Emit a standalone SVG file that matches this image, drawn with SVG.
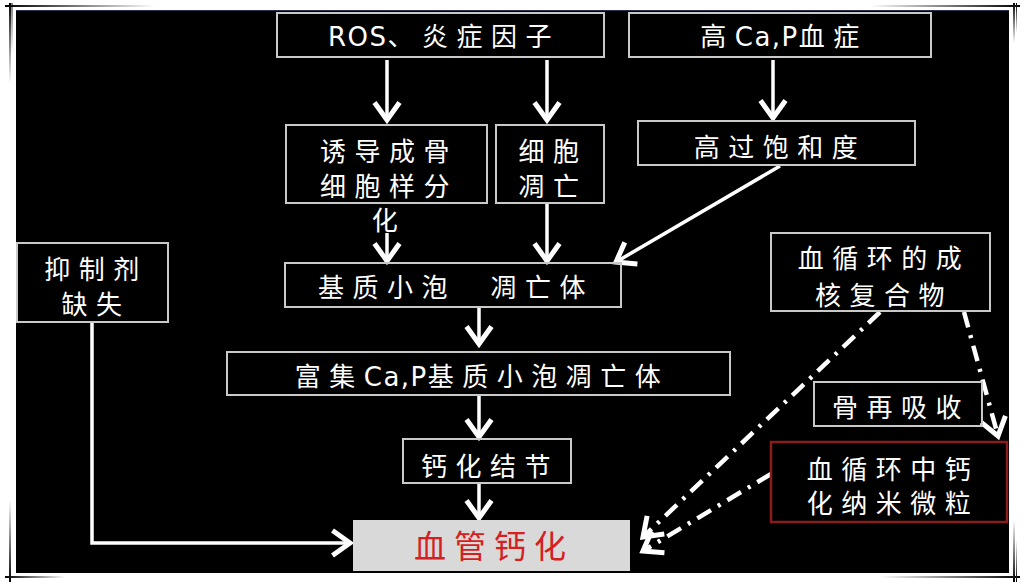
<svg xmlns="http://www.w3.org/2000/svg" width="1024" height="584" viewBox="0 0 1024 584">
<defs>
<style>
.box{fill:none;stroke:#c9c9c9;stroke-width:2}
.t{font-family:"Noto Sans CJK SC","Noto Sans",sans-serif;font-size:26px;fill:#ffffff;text-anchor:middle;letter-spacing:8.5px}
.l{font-family:"DejaVu Sans","Noto Sans CJK SC",sans-serif;letter-spacing:1.5px}
.c{fill:none;stroke:#ffffff;stroke-width:3.5}
.d{fill:none;stroke:#ffffff;stroke-width:4.5;stroke-dasharray:16 8 3 8}
</style>
<marker id="ah" markerUnits="userSpaceOnUse" markerWidth="30" markerHeight="30" refX="0" refY="0" viewBox="-18 -12 22 24" orient="auto">
<path d="M -14 -10 L 0 0 L -14 10" fill="none" stroke="#ffffff" stroke-width="4"/>
</marker>
<linearGradient id="gh" x1="0" y1="0" x2="1" y2="0"><stop offset="0" stop-color="#000"/><stop offset="1" stop-color="#fff"/></linearGradient>
<linearGradient id="ghr" x1="1" y1="0" x2="0" y2="0"><stop offset="0" stop-color="#000"/><stop offset="1" stop-color="#fff"/></linearGradient>
<linearGradient id="gv" x1="0" y1="0" x2="0" y2="1"><stop offset="0" stop-color="#000"/><stop offset="1" stop-color="#fff"/></linearGradient>
<linearGradient id="gvr" x1="0" y1="1" x2="0" y2="0"><stop offset="0" stop-color="#000"/><stop offset="1" stop-color="#fff"/></linearGradient>
</defs>
<rect x="0" y="0" width="1024" height="584" fill="#ffffff"/>
<g id="frame">
<rect x="16" y="10" width="993" height="563" fill="#000000"/>
<line x1="16" y1="10.5" x2="1009" y2="10.5" stroke="#27314a" stroke-width="1"/>
<rect x="5" y="5" width="150" height="2" fill="url(#gh)"/>
<rect x="9" y="3" width="2" height="80" fill="url(#gv)"/>
<rect x="11.5" y="3" width="1" height="50" fill="url(#gv)"/>
<rect x="870" y="5" width="150" height="2" fill="url(#ghr)"/>
<rect x="1013" y="3" width="2" height="40" fill="url(#gv)"/>
<rect x="1016" y="3" width="1" height="30" fill="url(#gv)"/>
<rect x="5" y="576" width="60" height="2" fill="url(#gh)"/>
<rect x="9" y="500" width="2" height="82" fill="url(#gvr)"/>
<rect x="880" y="576" width="140" height="2" fill="url(#ghr)"/>
<rect x="1013" y="520" width="2" height="62" fill="url(#gvr)"/>
<rect x="1016" y="540" width="1" height="42" fill="url(#gvr)"/>
</g>
<g id="connectors">
<line class="c" x1="387" y1="60" x2="387" y2="120" marker-end="url(#ah)"/>
<line class="c" x1="547" y1="60" x2="547" y2="120" marker-end="url(#ah)"/>
<line class="c" x1="773" y1="60" x2="773" y2="118" marker-end="url(#ah)"/>
<line class="c" x1="387" y1="233" x2="387" y2="261" marker-end="url(#ah)"/>
<line class="c" x1="547" y1="204" x2="547" y2="261" marker-end="url(#ah)"/>
<line class="c" x1="780" y1="166" x2="616" y2="262" marker-end="url(#ah)"/>
<line class="c" x1="479" y1="308" x2="479" y2="344" marker-end="url(#ah)"/>
<line class="c" x1="479" y1="396" x2="479" y2="437" marker-end="url(#ah)"/>
<line class="c" x1="479" y1="484" x2="479" y2="518" marker-end="url(#ah)"/>
<polyline class="c" points="92,322 92,543 350,543" marker-end="url(#ah)"/>
<line class="d" x1="880" y1="312" x2="643" y2="537" marker-end="url(#ah)"/>
<line class="d" x1="771" y1="474" x2="643" y2="551" marker-end="url(#ah)"/>
<line class="d" x1="964" y1="312" x2="998" y2="436" marker-end="url(#ah)"/>
</g>
<g id="n-ros"><rect class="box" x="277" y="13" width="327" height="44"/><text class="t" x="444" y="46"><tspan class="l">ROS</tspan>、炎症因子</text></g>
<g id="n-hcap"><rect class="box" x="629" y="13" width="302" height="44"/><text class="t" x="784" y="46">高<tspan class="l">Ca,P</tspan>血症</text></g>
<g id="n-induce"><rect class="box" x="286" y="125" width="201" height="78"/><text class="t" x="389" y="161">诱导成骨</text><text class="t" x="389" y="196">细胞样分</text><text class="t" x="389" y="230">化</text></g>
<g id="n-apop"><rect class="box" x="496" y="125" width="108" height="78"/><text class="t" x="553" y="161">细胞</text><text class="t" x="553" y="196">凋亡</text></g>
<g id="n-super"><rect class="box" x="638" y="121" width="277" height="44"/><text class="t" x="780" y="157">高过饱和度</text></g>
<g id="n-matrix"><rect class="box" x="285" y="263" width="336" height="44"/><text class="t" x="456" y="297">基质小泡　凋亡体</text></g>
<g id="n-rich"><rect class="box" x="227" y="352" width="503" height="43"/><text class="t" x="482" y="386">富集<tspan class="l">Ca,P</tspan>基质小泡凋亡体</text></g>
<g id="n-nodule"><rect class="box" x="403" y="439" width="168" height="44"/><text class="t" x="490" y="476">钙化结节</text></g>
<g id="n-inhib"><rect class="box" x="17" y="243" width="151" height="79"/><text class="t" x="96" y="279">抑制剂</text><text class="t" x="96" y="314">缺失</text></g>
<g id="n-nucl"><rect class="box" x="771" y="233" width="219" height="78"/><text class="t" x="884" y="268">血循环的成</text><text class="t" x="884" y="305">核复合物</text></g>
<g id="n-bone"><rect class="box" x="814" y="382" width="168" height="44"/><text class="t" x="901" y="417">骨再吸收</text></g>
<g id="n-nano"><rect x="771" y="442" width="236" height="80" fill="none" stroke="#8a1c1c" stroke-width="2.5"/><text class="t" x="893" y="479">血循环中钙</text><text class="t" x="893" y="513">化纳米微粒</text></g>
<g id="n-vc"><rect x="353" y="520" width="277" height="51" fill="#d9d9d9"/><text x="494" y="558" font-family="'Noto Sans CJK SC',sans-serif" font-size="32" fill="#d42020" text-anchor="middle" letter-spacing="8">血管钙化</text></g>
</svg>
